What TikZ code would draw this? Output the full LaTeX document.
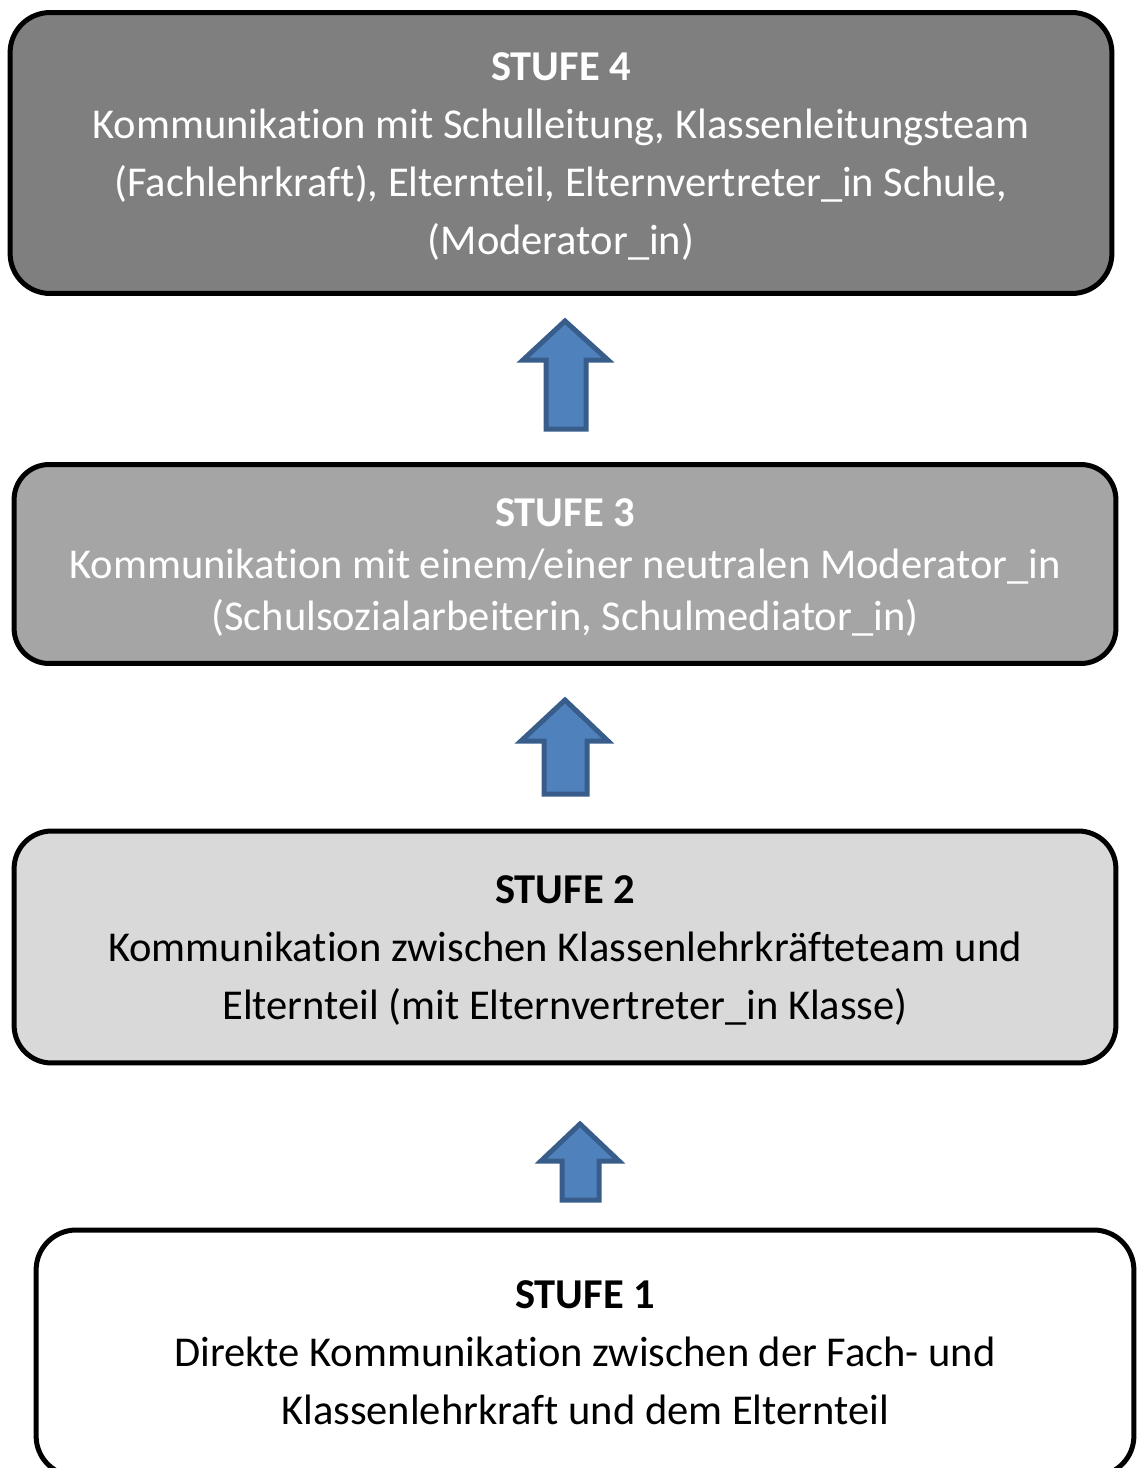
\documentclass[tikz,border=0pt]{standalone}
\usepackage{fontspec}
\setmainfont{Carlito}[Ligatures={NoCommon}]
\usepackage{tikz}
\usetikzlibrary{positioning}

\definecolor{stufevier}{HTML}{7F7F7F}
\definecolor{stufedrei}{HTML}{A5A5A5}
\definecolor{stufezwei}{HTML}{D9D9D9}
\definecolor{pfeilblau}{HTML}{4F81BD}
\definecolor{pfeilrand}{HTML}{385D8A}

\begin{document}
\begin{tikzpicture}[x=0.02cm,y=-0.02cm,
    stufe/.style={draw=black,line width=0.1cm,align=center,inner sep=0pt,
      minimum width=22.04cm,font=\fontsize{24.2}{33}\selectfont},
    pfeil/.style={fill=pfeilblau,draw=pfeilrand,line width=0.1cm,miter limit=20}]
  %\draw[step=50,gray,very thin] (0,0) grid (1138,1468);
  \useasboundingbox (0,0) rectangle (1138,1468);
  \clip (0,0) rectangle (1138,1468);

  \node[stufe,fill=stufevier,text=white,minimum height=5.62cm,rounded corners=0.8cm]
    (stufe4) at (561,153) {\rule{0pt}{19.5pt}\textbf{STUFE 4}\\
    Kommunikation mit Schulleitung, Klassenleitungsteam\\
    (Fachlehrkraft), Elternteil, Elternvertreter\_in Schule,\\
    (Moderator\_in)};

  \node[stufe,fill=stufedrei,text=white,minimum height=3.98cm,rounded corners=0.7cm,
    font=\fontsize{24.2}{29.6}\selectfont]
    (stufe3) at (565,564) {\rule{0pt}{20pt}\textbf{STUFE 3}\\
    Kommunikation mit einem/einer neutralen Moderator\_in\\
    (Schulsozialarbeiterin, Schulmediator\_in)};

  \node[stufe,fill=stufezwei,minimum height=4.64cm,rounded corners=0.75cm]
    (stufe2) at (565,947) {\rule{0pt}{19.5pt}\textbf{STUFE 2}\\
    Kommunikation zwischen Klassenlehrkräfteteam und\\
    Elternteil (mit Elternvertreter\_in Klasse)};

  \node[stufe,fill=white,minimum width=21.96cm,minimum height=4.92cm,rounded corners=0.8cm]
    (stufe1) at (585,1353) {\textbf{STUFE 1}\\
    Direkte Kommunikation zwischen der Fach- und\\
    Klassenlehrkraft und dem Elternteil};

  % Pfeile
  \draw[pfeil] (565,321) -- (523,360) -- (546,360) -- (546,429) -- (586,429)
    -- (586,360) -- (608,360) -- cycle;
  \draw[pfeil] (565,700) -- (521,741) -- (544,741) -- (544,794) -- (587,794)
    -- (587,741) -- (608,741) -- cycle;
  \draw[pfeil] (580,1124) -- (541,1161) -- (562,1161) -- (562,1200) -- (599,1200)
    -- (599,1161) -- (619,1161) -- cycle;
\end{tikzpicture}
\end{document}
